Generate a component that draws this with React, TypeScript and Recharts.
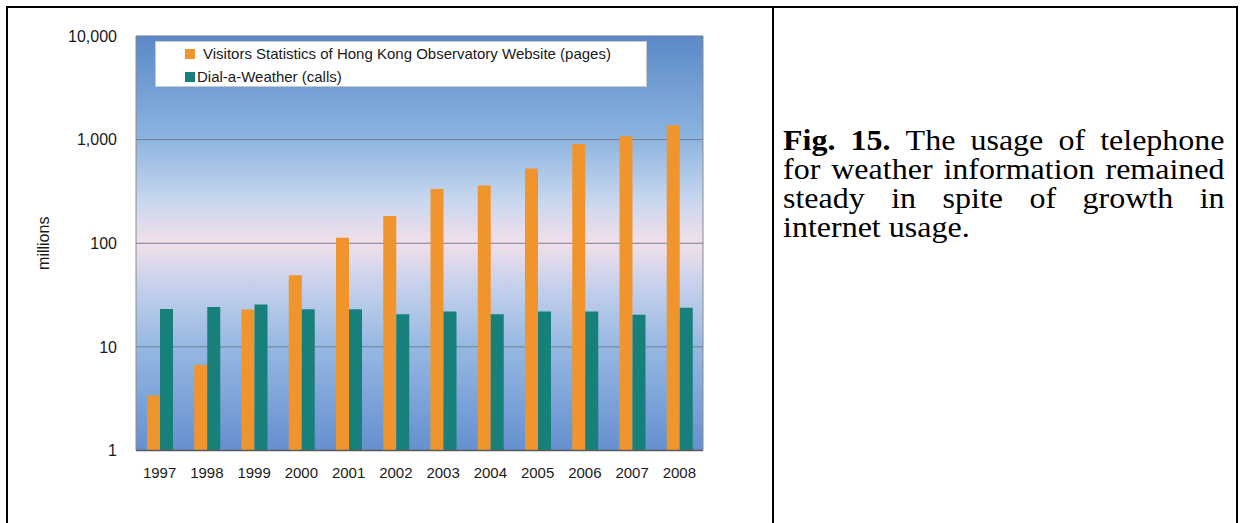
import React from 'react';
import {
  BarChart, Bar, XAxis, YAxis, CartesianGrid, Legend,
} from 'recharts';

const years = ['1997', '1998', '1999', '2000', '2001', '2002', '2003', '2004', '2005', '2006', '2007', '2008'];
const webPages = [3.4, 6.7, 23, 49, 113, 183, 334, 360, 525, 908, 1079, 1377];
const dialCalls = [23.2, 24.3, 25.6, 23.1, 23.1, 20.6, 21.9, 20.6, 21.9, 21.9, 20.4, 23.9];
const yTicks = [1, 10, 100, 1000, 10000];

const webLabel = 'Visitors Statistics of Hong Kong Observatory Website (pages)';
const dialLabel = 'Dial-a-Weather (calls)';

const captionLines = [
  'The usage of telephone',
  'for weather information remained',
  'steady in spite of growth in',
  'internet usage.',
];

const ORANGE = '#f0952e';
const TEAL = '#18807a';

const data = years.map((y, i) => ({ year: y, web: webPages[i], dial: dialCalls[i] }));

const sans = '"Liberation Sans", Arial, sans-serif';

const renderLegend = () => (
  <div
    style={{
      width: 492,
      height: 46,
      background: '#ffffff',
      border: '1px solid #c8c8c8',
      boxSizing: 'border-box',
      fontFamily: sans,
      fontSize: 15,
      color: '#1a1a1a',
      paddingLeft: 29,
    }}
  >
    <div style={{ height: 23, display: 'flex', alignItems: 'center' }}>
      <span style={{ width: 10, height: 10, background: ORANGE, display: 'inline-block' }} />
      <span style={{ marginLeft: 8 }}>{webLabel}</span>
    </div>
    <div style={{ height: 23, display: 'flex', alignItems: 'center' }}>
      <span style={{ width: 10, height: 10, background: TEAL, display: 'inline-block' }} />
      <span style={{ marginLeft: 2 }}>{dialLabel}</span>
    </div>
  </div>
);

const MillionsLabel = (props: any) => {
  const vb = props.viewBox || { y: 36, height: 414 };
  const cy = vb.y + vb.height / 2;
  return (
    <text
      x={43}
      y={cy}
      transform={`rotate(-90 43 ${cy})`}
      textAnchor="middle"
      dominantBaseline="central"
      fontFamily={sans}
      fontSize={16}
      fill="#1a1a1a"
    >
      millions
    </text>
  );
};

const lineStyle = (last: boolean): React.CSSProperties => ({
  height: 29,
  whiteSpace: 'nowrap',
  display: 'flex',
  justifyContent: last ? 'flex-start' : 'space-between',
  alignItems: 'baseline',
  gap: last ? 7.4 : 0,
});

export default function App() {
  return (
    <div>
      <div
        style={{
          position: 'absolute',
          left: 6,
          top: 6,
          width: 1232,
          height: 517,
          borderTop: '2px solid #000',
          borderLeft: '2px solid #000',
          borderRight: '2px solid #000',
          boxSizing: 'border-box',
        }}
      />
      <div style={{ position: 'absolute', left: 772, top: 6, width: 2, height: 517, background: '#000' }} />
      <div style={{ position: 'absolute', left: 0, top: 0, width: 773, height: 523 }}>
        <BarChart
          width={773}
          height={523}
          data={data}
          margin={{ top: 36, right: 69, bottom: 42.5, left: 76 }}
          barGap={0}
          barSize={13}
        >
          <defs>
            <linearGradient id="bgGrad" x1="0" y1="0" x2="0" y2="1">
              <stop offset="0%" stopColor="#5b89c8" />
              <stop offset="24%" stopColor="#8ab3df" />
              <stop offset="40%" stopColor="#c9d7ef" />
              <stop offset="50%" stopColor="#f2dfea" />
              <stop offset="60%" stopColor="#c6d1ec" />
              <stop offset="75%" stopColor="#96b8e2" />
              <stop offset="100%" stopColor="#6590cf" />
            </linearGradient>
          </defs>
          <CartesianGrid
            vertical={false}
            stroke="#6e7f94"
            strokeWidth={1}
            fill="url(#bgGrad)"
            fillOpacity={1}
          />
          <XAxis
            dataKey="year"
            height={30}
            axisLine={{ stroke: '#5a5a5a', strokeWidth: 1.5 }}
            tickLine={false}
            tickMargin={11}
            tick={{ fontFamily: sans, fontSize: 15, fill: '#1a1a1a' }}
            interval={0}
          />
          <YAxis
            scale="log"
            domain={[1, 10000]}
            ticks={yTicks}
            allowDataOverflow
            width={60}
            axisLine={{ stroke: '#8a8a8a' }}
            tickLine={false}
            tickMargin={13}
            tick={{ fontFamily: sans, fontSize: 16, fill: '#1a1a1a' }}
            tickFormatter={(v: number) => v.toLocaleString('en-US')}
            label={<MillionsLabel />}
          />
          <YAxis
            yAxisId="right"
            orientation="right"
            scale="log"
            domain={[1, 10000]}
            allowDataOverflow
            width={1}
            tick={false}
            tickLine={false}
            axisLine={{ stroke: '#8a8a8a' }}
          />
          <Legend
            layout="vertical"
            align="center"
            verticalAlign="middle"
            content={renderLegend}
            wrapperStyle={{ left: 155, top: 41, width: 492, height: 46 }}
          />
          <Bar dataKey="web" name={webLabel} fill={ORANGE} isAnimationActive={false} />
          <Bar dataKey="dial" name={dialLabel} fill={TEAL} isAnimationActive={false} />
        </BarChart>
      </div>
      <div
        style={{
          position: 'absolute',
          left: 783,
          top: 126,
          width: 407,
          transform: 'scaleX(1.085)',
          transformOrigin: 'left top',
          fontFamily: '"Liberation Serif", "Times New Roman", serif',
          fontSize: 29.5,
          lineHeight: '29px',
          color: '#000',
        }}
      >
        {captionLines.map((line, li) => {
          const words = line.split(' ');
          const last = li === captionLines.length - 1;
          return (
            <div key={li} style={lineStyle(last)}>
              {li === 0 && <b>Fig.</b>}
              {li === 0 && <b>15.</b>}
              {words.map((w, wi) => (
                <span key={wi}>{w}</span>
              ))}
            </div>
          );
        })}
      </div>
    </div>
  );
}
